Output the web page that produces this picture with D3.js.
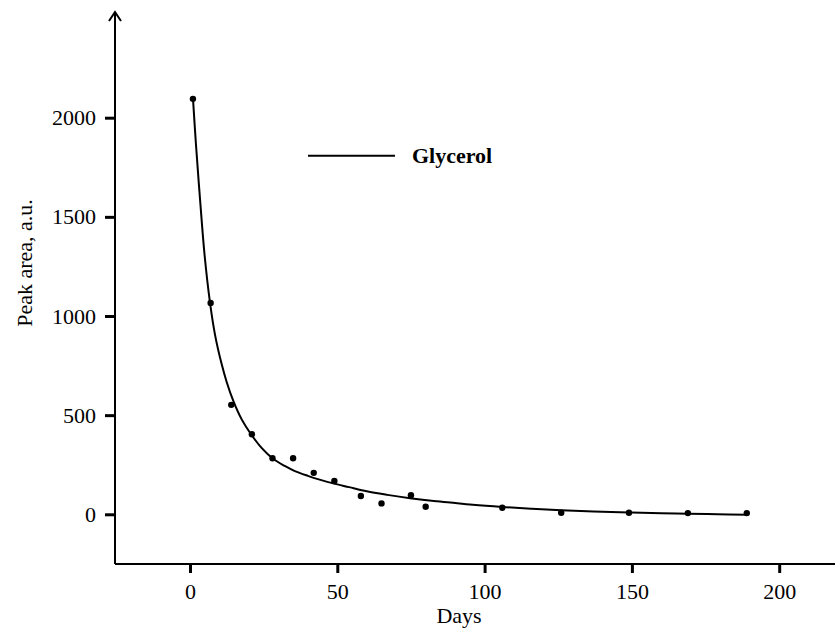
<!DOCTYPE html>
<html>
<head>
<meta charset="utf-8">
<script src="https://cdn.jsdelivr.net/npm/d3@7"></script>
<style>
  html, body { margin: 0; padding: 0; background: #fff; }
  svg { display: block; }
  svg text { font-family: "Liberation Serif", "Times New Roman", serif; fill: #000; }
</style>
</head>
<body>
<svg id="chart" width="835" height="630" font-family="Liberation Serif, serif"></svg>
<script>
// Measured glycerol peak areas over storage time
const days = [1, 7, 14, 21, 28, 35, 42, 49, 58, 65, 75, 80, 106, 126, 149, 169, 189];
const peakArea = [2095, 1066, 552, 404, 283, 283, 209, 168, 92, 55, 96, 38, 33, 8, 8, 6, 6];

// Fitted decay curve, sampled along its course
const fitDays = [1, 2, 3.4, 5, 6.8, 8.5, 10.7, 12.5, 14.7, 17.5, 20.9, 24.3, 28.2, 32, 35.6, 40, 44, 48.6, 54, 60, 67, 74.7, 82, 88.3, 96, 106, 116, 126, 137, 149, 160, 169, 179, 189];
const fitArea = [2100, 1870, 1590, 1300, 1066, 905, 760, 665, 572, 480, 400, 335, 280, 245, 218, 194, 175, 156, 137, 116, 98, 81, 68, 59, 48, 37, 28, 20, 14, 9, 5, 3, 0, -2];

const xTicks = [0, 50, 100, 150, 200];
const yTicks = [0, 500, 1000, 1500, 2000];

const seriesName = "Glycerol";
const xTitle = "Days";
const yTitle = "Peak area, a.u.";

const svg = d3.select("#chart");
const fontSize = 22;
const serif = "Liberation Serif, Times New Roman, serif";

const x = d3.scaleLinear().domain([0, 200]).range([190, 779.2]);
const y = d3.scaleLinear().domain([0, 2000]).range([514.3, 117.7]);

const axisX = 115;   // pixel position of the vertical axis
const axisY = 564;   // pixel position of the horizontal axis

// Axis lines with arrow heads
svg.append("line")
  .attr("x1", axisX).attr("y1", axisY).attr("x2", axisX).attr("y2", 12)
  .attr("stroke", "#000").attr("stroke-width", 2);
svg.append("path")
  .attr("d", `M${axisX - 6},${21} L${axisX},${12} L${axisX + 6},${21}`)
  .attr("fill", "none").attr("stroke", "#000").attr("stroke-width", 2);

svg.append("line")
  .attr("x1", axisX).attr("y1", axisY).attr("x2", 845).attr("y2", axisY)
  .attr("stroke", "#000").attr("stroke-width", 2);
svg.append("path")
  .attr("d", `M${836},${axisY - 6} L${845},${axisY} L${836},${axisY + 6}`)
  .attr("fill", "none").attr("stroke", "#000").attr("stroke-width", 2);

// Y axis ticks and labels
const gy = svg.append("g")
  .attr("transform", `translate(${axisX},0)`)
  .call(d3.axisLeft(y).tickValues(yTicks).tickSize(10).tickPadding(9).tickSizeOuter(0).tickFormat(d3.format("d")));
gy.attr("font-family", serif).attr("font-size", fontSize);
gy.select(".domain").remove();
gy.selectAll(".tick line").attr("stroke", "#000").attr("stroke-width", 3);
gy.selectAll(".tick text").attr("fill", "#000");

// X axis ticks and labels
const gx = svg.append("g")
  .attr("transform", `translate(0,${axisY})`)
  .call(d3.axisBottom(x).tickValues(xTicks).tickSize(9).tickPadding(10).tickSizeOuter(0).tickFormat(d3.format("d")));
gx.attr("font-family", serif).attr("font-size", fontSize);
gx.select(".domain").remove();
gx.selectAll(".tick line").attr("stroke", "#000").attr("stroke-width", 3);
gx.selectAll(".tick text").attr("fill", "#000");

// Axis titles
svg.append("text")
  .attr("x", 459).attr("y", 623)
  .attr("text-anchor", "middle")
  .attr("font-family", serif)
  .attr("font-size", fontSize)
  .text(xTitle);

svg.append("text")
  .attr("transform", `translate(32,263) rotate(-90)`)
  .attr("text-anchor", "middle")
  .attr("font-family", serif)
  .attr("font-size", fontSize)
  .text(yTitle);

// Fitted curve
const line = d3.line()
  .x((d, i) => x(fitDays[i]))
  .y(d => y(d))
  .curve(d3.curveCatmullRom.alpha(0.5));

svg.append("path")
  .datum(fitArea)
  .attr("d", line)
  .attr("fill", "none")
  .attr("stroke", "#000")
  .attr("stroke-width", 2);

// Measured points
svg.append("g").selectAll("circle")
  .data(peakArea)
  .join("circle")
  .attr("cx", (d, i) => x(days[i]))
  .attr("cy", d => y(d))
  .attr("r", 3.2)
  .attr("fill", "#000");

// Legend
svg.append("line")
  .attr("x1", 308).attr("x2", 395).attr("y1", 155.7).attr("y2", 155.7)
  .attr("stroke", "#000").attr("stroke-width", 2);
svg.append("text")
  .attr("x", 412).attr("y", 163)
  .attr("font-family", serif)
  .attr("font-size", fontSize)
  .attr("font-weight", "bold")
  .text(seriesName);
</script>
</body>
</html>
